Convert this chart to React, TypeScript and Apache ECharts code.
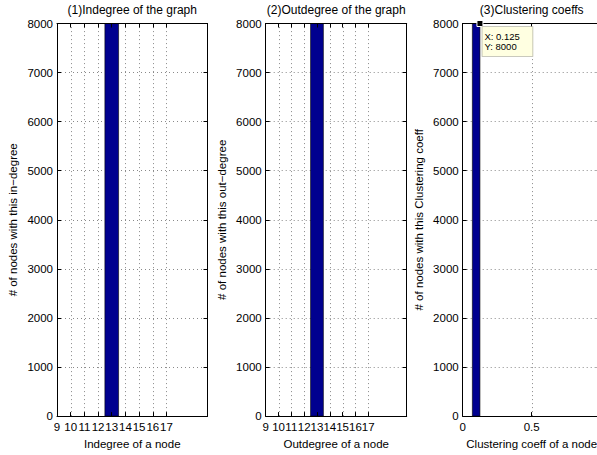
import React, { useEffect, useRef } from "react";
import * as echarts from "echarts";

// ---- data ----
const titles = ["(1)Indegree of the graph", "(2)Outdegree of the graph", "(3)Clustering coeffs"];
const xNames = ["Indegree of a node", "Outdegree of a node", "Clustering coeff of a node"];
const yNames = [
  "# of nodes with this in\u2212degree",
  "# of nodes with this out\u2212degree",
  "# of nodes with this Clustering coeff",
];

const inTicks = [9, 10, 11, 12, 13, 14, 15, 16, 17];
const outTicks = [9, 10, 11, 12, 13, 14, 15, 16, 17];
const ccTicks = [0, 0.5];

const inBinLeft = [12.5];
const inBinRight = [13.5];
const inCounts = [8000];

const outBinLeft = [12.5];
const outBinRight = [13.5];
const outCounts = [8000];

const ccBinLeft = [0.07];
const ccBinRight = [0.125];
const ccCounts = [8000];

const tipX = 0.125;
const tipY = 8000;

const yMin = 0;
const yMax = 8000;
const yStep = 1000;

// ---- layout / style ----
const FONT = '"Liberation Sans", Arial, Helvetica, sans-serif';
const BAR = "#00008f";
const GRIDC = "#8a8a8a";
const panels = [
  { left: 57, width: 150.5, xMin: 9, xMax: 20, ticks: inTicks, bl: inBinLeft, br: inBinRight, c: inCounts },
  { left: 265.7, width: 141, xMin: 9, xMax: 20, ticks: outTicks, bl: outBinLeft, br: outBinRight, c: outCounts },
  { left: 462.7, width: 138, xMin: 0, xMax: 1, ticks: ccTicks, bl: ccBinLeft, br: ccBinRight, c: ccCounts },
];
const TOP = 23.5;
const HEIGHT = 396;

export default function App() {
  const ref = useRef<HTMLDivElement>(null);
  useEffect(() => {
    if (!ref.current) return;
    const chart = echarts.init(ref.current, null, { renderer: "svg" });
    const grid: any[] = [];
    const xAxis: any[] = [];
    const yAxis: any[] = [];
    const series: any[] = [];
    const title: any[] = [];
    const txt = { fontFamily: FONT, fontSize: 11.5, color: "#000" };
    const plain = (v: number) => String(v);

    panels.forEach((p, k) => {
      grid.push({ left: p.left, top: TOP, width: p.width, height: HEIGHT, containLabel: false });
      title.push({
        text: titles[k],
        left: p.left + p.width / 2,
        top: 4,
        padding: 0,
        textAlign: "center",
        textStyle: { ...txt, fontSize: 12, fontWeight: "normal" },
      });
      const tickCommon = { show: true, inside: true, length: 4, customValues: p.ticks, lineStyle: { color: "#000", width: 1 } };
      xAxis.push({
        type: "value",
        gridIndex: k,
        position: "bottom",
        min: p.xMin,
        max: p.xMax,
        axisLine: { show: true, onZero: false, lineStyle: { color: "#000", width: 1 } },
        axisTick: tickCommon,
        axisLabel: { show: true, customValues: p.ticks, margin: 5, formatter: plain, ...txt },
        splitLine: { show: false },
        name: xNames[k],
        nameLocation: "middle",
        nameGap: 18,
        nameTextStyle: txt,
        z: 3,
      });
      xAxis.push({
        type: "value",
        gridIndex: k,
        position: "top",
        min: p.xMin,
        max: p.xMax,
        axisLine: { show: true, onZero: false, lineStyle: { color: "#000", width: 1 } },
        axisTick: tickCommon,
        axisLabel: { show: false },
        splitLine: { show: false },
        z: 3,
      });
      yAxis.push({
        type: "value",
        gridIndex: k,
        position: "left",
        min: yMin,
        max: yMax,
        interval: yStep,
        axisLine: { show: true, onZero: false, lineStyle: { color: "#000", width: 1 } },
        axisTick: { show: true, inside: true, length: 4, lineStyle: { color: "#000" } },
        axisLabel: { show: true, margin: 4, formatter: plain, ...txt },
        splitLine: { show: true, lineStyle: { type: [1, 3], color: GRIDC, width: 1 } },
        name: yNames[k],
        nameLocation: "middle",
        nameGap: 38,
        nameTextStyle: txt,
        z: 0,
      });
      yAxis.push({
        type: "value",
        gridIndex: k,
        position: "right",
        min: yMin,
        max: yMax,
        interval: yStep,
        axisLine: { show: true, onZero: false, lineStyle: { color: "#000", width: 1 } },
        axisTick: { show: true, inside: true, length: 4, lineStyle: { color: "#000" } },
        axisLabel: { show: false },
        splitLine: { show: false },
        z: 3,
      });

      // vertical dotted grid lines at the x ticks
      series.push({
        type: "custom",
        xAxisIndex: 2 * k,
        yAxisIndex: 2 * k,
        z: 1,
        silent: true,
        data: p.ticks.filter((v) => v > p.xMin && v < p.xMax).map((v) => [v, yMin]),
        renderItem: (params: any, api: any) => {
          const v = api.value(0);
          const a = api.coord([v, yMin]);
          const b = api.coord([v, yMax]);
          const x = Math.round(a[0]) + 0.5;
          return {
            type: "line",
            shape: { x1: x, y1: a[1], x2: x, y2: b[1] },
            style: { stroke: GRIDC, lineWidth: 1, lineDash: [1, 3] },
          };
        },
      });

      // histogram bars
      const barSeries: any = {
        type: "custom",
        xAxisIndex: 2 * k,
        yAxisIndex: 2 * k,
        z: 2,
        data: p.bl.map((l, i) => [l, p.br[i], p.c[i]]),
        encode: { x: [0, 1], y: 2 },
        renderItem: (params: any, api: any) => {
          const p0 = api.coord([api.value(0), yMin]);
          const p1 = api.coord([api.value(1), api.value(2)]);
          return {
            type: "rect",
            shape: { x: p0[0], y: p1[1], width: p1[0] - p0[0], height: p0[1] - p1[1] },
            style: { fill: BAR, stroke: "#000", lineWidth: 0.6 },
          };
        },
      };
      if (k === 2) {
        barSeries.markPoint = {
          symbol: "rect",
          symbolSize: 6,
          silent: true,
          itemStyle: { color: "#000", borderColor: "#fff", borderWidth: 1 },
          label: {
            show: true,
            position: [6, 7],
            formatter: `X: ${tipX}\nY: ${tipY}`,
            backgroundColor: "#ffffe1",
            borderColor: "#b8b8a8",
            borderWidth: 0.8,
            padding: [4, 3, 4, 2],
            width: 45,
            fontFamily: FONT,
            fontSize: 9.5,
            lineHeight: 10.5,
            color: "#000",
            align: "left",
            verticalAlign: "top",
          },
          data: [{ coord: [tipX, tipY] }],
        };
      }
      series.push(barSeries);
    });

    chart.setOption({
      animation: false,
      backgroundColor: "#fff",
      title,
      grid,
      xAxis,
      yAxis,
      series,
    });
    return () => chart.dispose();
  }, []);
  return (
    <div style={{ position: "absolute", left: 0, top: 0, width: 597, height: 455, overflow: "hidden", background: "#fff" }}>
      <div ref={ref} style={{ width: 640, height: 455 }} />
    </div>
  );
}
